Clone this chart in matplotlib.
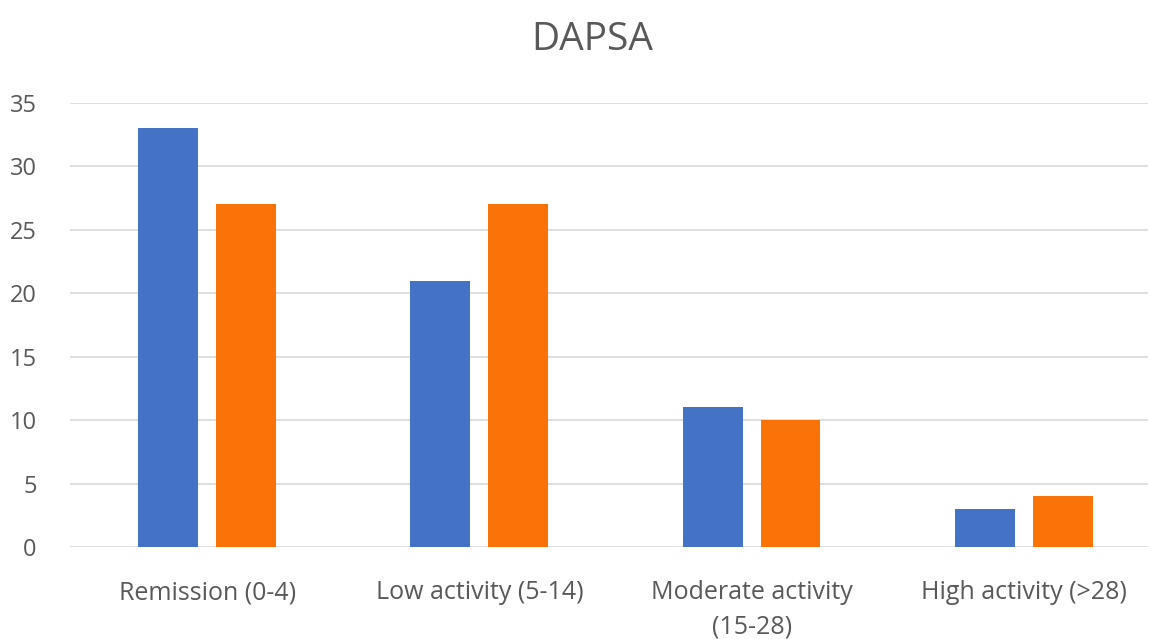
import matplotlib.pyplot as plt
import numpy as np

plt.rcParams['font.family'] = ['Open Sans', 'DejaVu Sans']

categories = ['Remission (0-4)', 'Low activity (5-14)', 'Moderate activity\n(15-28)', 'High activity (>28)']
series_a = [33, 21, 11, 3]
series_b = [27, 27, 10, 4]
yticks = [0, 5, 10, 15, 20, 25, 30, 35]

fig = plt.figure(figsize=(11.5, 6.39), dpi=100)
ax = fig.add_axes([0.061, 0.144, 0.937, 0.695])

x = np.arange(len(categories))
w = 0.22
off = 0.143
ax.bar(x - off, series_a, w, color='#4472C4', zorder=3)
ax.bar(x + off, series_b, w, color='#FA7308', zorder=3)

ax.set_xlim(-0.503, 3.455)
ax.set_ylim(0, 35)
ax.set_yticks(yticks)
ax.yaxis.grid(True, color='#D9D9D9', lw=1.2, zorder=0)
ax.set_xticks(x)
ax.set_xticklabels(categories, fontsize=18, color='#595959', linespacing=1.5)
ax.tick_params(axis='y', labelsize=17, labelcolor='#595959', length=0, pad=24)
ax.tick_params(axis='x', length=0, pad=24)
for s in ax.spines.values():
    s.set_visible(False)

fig.text(0.515, 0.937, 'DAPSA', ha='center', va='center', fontsize=28, color='#595959')

fig.savefig('out.png', dpi=100)
